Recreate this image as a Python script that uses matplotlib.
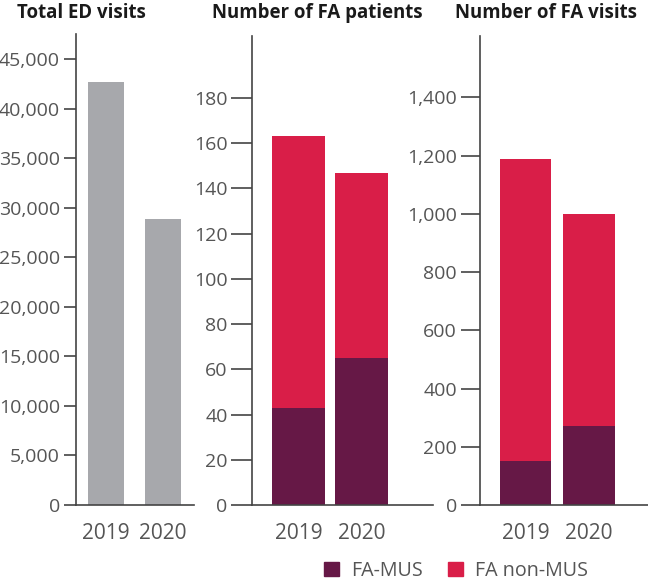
import numpy as np
import matplotlib
matplotlib.use("Agg")
import matplotlib.pyplot as plt
from matplotlib.patches import Patch

plt.rcParams['font.family'] = ['Open Sans', 'DejaVu Sans']

years = ["2019", "2020"]
ed_visits = [42650, 28900]
patients_mus = [43, 65]
patients_total = [163, 147]
visits_mus = [150, 272]
visits_total = [1190, 998]

patients_non = [t - m for t, m in zip(patients_total, patients_mus)]
visits_non = [t - m for t, m in zip(visits_total, visits_mus)]

gray = "#a7a8ac"
red = "#d91e48"
purple = "#661846"
txt = "#555555"
axcol = "#444444"

W, H = 648, 583
fig = plt.figure(figsize=(W / 100, H / 100), dpi=100)


def px_axes(left, right, top, bottom=505):
    return fig.add_axes([left / W, (H - bottom) / H, (right - left) / W, (bottom - top) / H])


def style(ax, ticklen):
    for s in ["top", "right"]:
        ax.spines[s].set_visible(False)
    for s in ["left", "bottom"]:
        ax.spines[s].set_color(axcol)
        ax.spines[s].set_linewidth(1.2)
    ax.tick_params(axis="y", length=ticklen, width=1.2, color=axcol, labelcolor=txt,
                   labelsize=14, pad=2.5)
    ax.tick_params(axis="x", length=0, labelcolor=txt, labelsize=15, pad=13)
    ax.set_xticks([0, 1])
    ax.set_xticklabels(years)


x = np.arange(len(years))

# Total ED visits
ax1 = px_axes(76, 194, 34)
ax1.bar(x, ed_visits, width=0.63, color=gray)
ax1.set_xlim(-0.526, 1.544)
ax1.set_ylim(0, 47520)
ax1.set_yticks(np.arange(0, 45001, 5000))
ax1.set_yticklabels([f"{v:,}" for v in range(0, 45001, 5000)])
style(ax1, 9)

# Number of FA patients
ax2 = px_axes(252, 433, 36)
ax2.bar(x, patients_mus, width=0.84, color=purple)
ax2.bar(x, patients_non, bottom=patients_mus, width=0.84, color=red)
ax2.set_xlim(-0.738, 2.135)
ax2.set_ylim(0, 207.4)
ax2.set_yticks(np.arange(0, 181, 20))
style(ax2, 15)

# Number of FA visits
ax3 = px_axes(480, 648, 36)
ax3.bar(x, visits_mus, width=0.81, color=purple)
ax3.bar(x, visits_non, bottom=visits_mus, width=0.81, color=red)
ax3.set_xlim(-0.717, 1.929)
ax3.set_ylim(0, 1611)
ax3.set_yticks(np.arange(0, 1401, 200))
ax3.set_yticklabels([f"{v:,}" for v in range(0, 1401, 200)])
style(ax3, 14)

titles = [("Total ED visits", 17), ("Number of FA patients", 212), ("Number of FA visits", 455)]
for t, xp in titles:
    fig.text(xp / W, 1 - 13 / H, t, ha="left", va="center", fontsize=13.4,
             fontweight="bold", color="#1a1a1a")

handles = [Patch(color=purple, label="FA-MUS"), Patch(color=red, label="FA non-MUS")]
fig.legend(handles=handles, loc="center", bbox_to_anchor=(456 / W, 1 - 571 / H), ncol=2,
           frameon=False, fontsize=14.2, handlelength=0.75, handleheight=0.75,
           handletextpad=0.6, columnspacing=1.3, labelcolor=txt, borderpad=0.2)

fig.savefig("out.png", dpi=100)
